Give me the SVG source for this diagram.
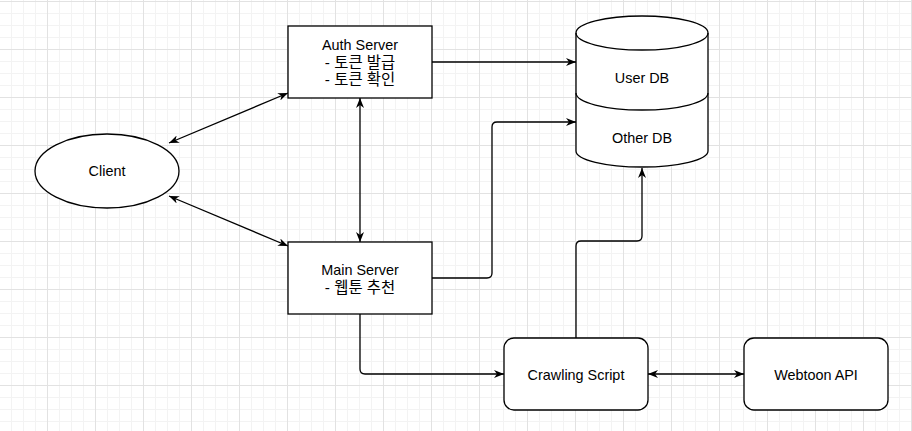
<svg xmlns="http://www.w3.org/2000/svg" width="912" height="431" viewBox="0 0 912 431">
<defs>
<pattern id="grid" x="47" y="1" width="48" height="48" patternUnits="userSpaceOnUse">
<path d="M12.5 0V48M24.5 0V48M36.5 0V48M0 12.5H48M0 24.5H48M0 36.5H48" stroke="#f3f3f3" stroke-width="1" fill="none"/>
<path d="M0.5 0V48M0 0.5H48" stroke="#e2e2e2" stroke-width="1" fill="none"/>
</pattern>
<marker id="arr" viewBox="0 0 10 8" refX="10" refY="4" markerWidth="10" markerHeight="8" markerUnits="userSpaceOnUse" orient="auto-start-reverse">
<path d="M0,0 L10,4 L0,8 L3,4 Z" fill="#000"/>
</marker>
</defs>
<style>
.node{fill:#fff;stroke:#000;stroke-width:1.3}
.edge{fill:none;stroke:#000;stroke-width:1.3}
text{font-family:"Liberation Sans","Noto Sans CJK KR",Arial,sans-serif;font-size:14.4px;fill:#000;text-anchor:middle}
text.ko{font-size:15.4px}
</style>
<rect width="912" height="431" fill="#fff"/>
<rect width="912" height="431" fill="url(#grid)"/>
<g id="connectors">
<path class="edge" d="M432,62 H576" marker-end="url(#arr)"/>
<path class="edge" d="M432,278 H487 Q492,278 492,273 V127 Q492,122 497,122 H576" marker-end="url(#arr)"/>
<path class="edge" d="M360,98 V242" marker-start="url(#arr)" marker-end="url(#arr)"/>
<path class="edge" d="M169,143 L288,93" marker-start="url(#arr)" marker-end="url(#arr)"/>
<path class="edge" d="M169,196 L288,246" marker-start="url(#arr)" marker-end="url(#arr)"/>
<path class="edge" d="M360,314 V369 Q360,374 365,374 H504" marker-end="url(#arr)"/>
<path class="edge" d="M576,338 V246 Q576,241 581,241 H637 Q642,241 642,236 V168" marker-end="url(#arr)"/>
<path class="edge" d="M648,374 H744" marker-start="url(#arr)" marker-end="url(#arr)"/>
</g>
<g id="client">
<ellipse class="node" cx="107" cy="171" rx="72" ry="37"/>
<text x="107" y="176">Client</text>
</g>
<g id="auth-server">
<rect class="node" x="288" y="26" width="144" height="72"/>
<text x="360" y="50">Auth Server</text>
<text class="ko" x="360" y="67.5">- 토큰 발급</text>
<text class="ko" x="360" y="84.5">- 토큰 확인</text>
</g>
<g id="main-server">
<rect class="node" x="288" y="242" width="144" height="72"/>
<text x="360" y="274.5">Main Server</text>
<text class="ko" x="360" y="292.5">- 웹툰 추천</text>
</g>
<g id="database">
<path class="node" d="M576,33 V151 A66,16 0 0 0 708,151 V33 A66,17 0 0 0 576,33 Z"/>
<path class="edge" d="M576,33 A66,17 0 0 0 708,33"/>
<path class="edge" d="M576,93 A66,17 0 0 0 708,93"/>
<text x="642" y="83">User DB</text>
<text x="642" y="143">Other DB</text>
</g>
<g id="crawling-script">
<rect class="node" x="504" y="338" width="144" height="72" rx="10"/>
<text x="576" y="380">Crawling Script</text>
</g>
<g id="webtoon-api">
<rect class="node" x="744" y="338" width="144" height="72" rx="10"/>
<text x="816" y="380">Webtoon API</text>
</g>
</svg>
